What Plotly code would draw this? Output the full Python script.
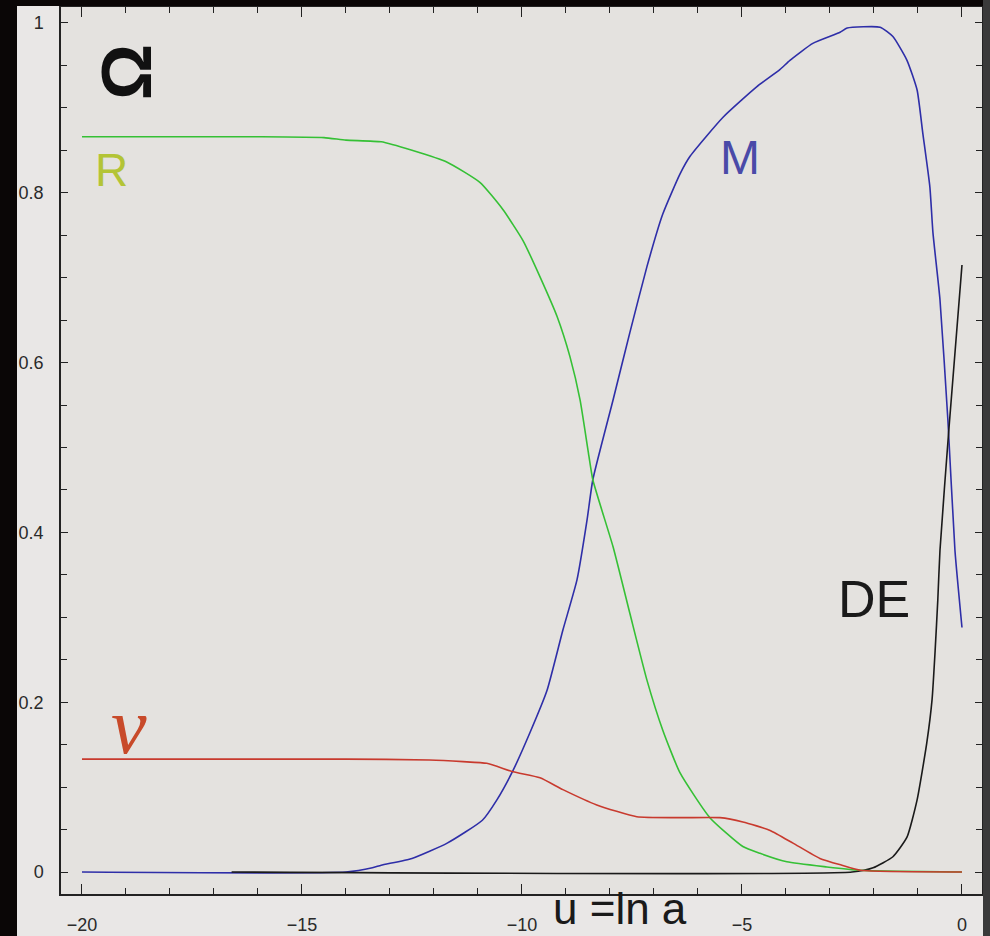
import plotly.graph_objects as go

# Density fractions versus u = ln a
u_R = [-20, -16, -14.5, -14, -13.2, -12.5, -11.7, -10.95, -10.43, -9.98, -9.59, -9.2,
       -8.91, -8.68, -8.5, -8.39, -7.93, -7.55, -7.16, -6.8, -6.41, -5.73, -4.98, -4.59,
       -3.98, -3.07, -2.32, 0]
omega_R = [0.866, 0.866, 0.865, 0.862, 0.860, 0.850, 0.836, 0.812, 0.780, 0.744, 0.701, 0.654,
           0.607, 0.556, 0.497, 0.462, 0.383, 0.305, 0.226, 0.167, 0.117, 0.064, 0.030, 0.022,
           0.012, 0.006, 0.002, 0.0]

u_nu = [-20, -14, -12.1, -11.34, -10.8, -10.2, -9.59, -9.07, -8.3, -7.39, -6.41, -5.5,
        -4.98, -4.36, -3.84, -3.23, -2.73, -2.3, 0]
omega_nu = [0.133, 0.133, 0.132, 0.130, 0.128, 0.118, 0.111, 0.097, 0.079, 0.065, 0.064, 0.064,
            0.059, 0.049, 0.034, 0.016, 0.008, 0.002, 0.0]

u_M = [-20, -14, -13.4, -13.2, -12.5, -11.7, -10.9, -10.57, -10.2, -9.82, -9.43, -9.07,
       -8.75, -8.52, -8.39, -7.93, -7.55, -7.16, -6.8, -6.41, -6.18, -5.43, -4.66, -4.14,
       -3.91, -3.39, -2.77, -2.61, -1.86, -1.57, -1.25, -1.02, -0.89, -0.73, -0.66, -0.5,
       -0.32, -0.16, 0]
omega_M = [0.0, 0.0, 0.005, 0.008, 0.016, 0.034, 0.061, 0.085, 0.120, 0.164, 0.214, 0.285,
           0.344, 0.415, 0.462, 0.556, 0.635, 0.713, 0.775, 0.822, 0.843, 0.889, 0.925, 0.945,
           0.956, 0.976, 0.989, 0.994, 0.995, 0.984, 0.956, 0.921, 0.870, 0.807, 0.753, 0.674,
           0.532, 0.379, 0.288]

u_DE = [-16.6, -2.5, -2.02, -1.57, -1.25, -1.02, -0.8, -0.68, -0.61, -0.55, -0.5, -0.3, 0]
omega_DE = [0.0, 0.0, 0.005, 0.018, 0.041, 0.085, 0.152, 0.203, 0.261, 0.32, 0.379, 0.52, 0.715]

x_ticks = [-20, -15, -10, -5, 0]
x_tick_text = ["\u221220", "\u221215", "\u221210", "\u22125", "0"]
y_ticks = [0, 0.2, 0.4, 0.6, 0.8, 1]
y_tick_text = ["0", "0.2", "0.4", "0.6", "0.8", "1"]


def curve(x, y, color):
    return go.Scatter(x=x, y=y, mode="lines",
                      line=dict(color=color, width=1.6, shape="spline", smoothing=0.5))


fig = go.Figure()
fig.add_trace(curve(u_M, omega_M, "#2e2ea8"))
fig.add_trace(curve(u_DE, omega_DE, "#1a1a1a"))
fig.add_trace(curve(u_R, omega_R, "#35c035"))
fig.add_trace(curve(u_nu, omega_nu, "#c83a2e"))

L, R, T, B = 61, 8, 7, 42
W, H = 990, 936
pw, ph = W - L - R, H - T - B


def px(xp):
    return (xp - L) / pw


def py(yp):
    return (H - B - yp) / ph


label_font = "Liberation Sans, Arial, sans-serif"
annotations = [
    dict(x=-19.32, y=0.827, text="R", font=dict(size=46, color="#b3c436", family=label_font)),
    dict(x=-5.05, y=0.842, text="M", font=dict(size=48, color="#4a4aa8", family=label_font)),
    dict(x=-2.0, y=0.322, text="DE", font=dict(size=52, color="#1a1a1a", family=label_font)),
    dict(x=-18.93, y=0.172, text="<i>\u03bd</i>",
         font=dict(size=80, color="#c84a2a", family="Liberation Serif, Times New Roman, serif")),
    dict(x=-18.98, y=0.942, text="<b>\u03a9</b>", textangle=-90,
         font=dict(size=70, color="#111111", family=label_font)),
    dict(xref="paper", yref="paper", x=px(620), y=py(935), yanchor="bottom",
         text="u =ln a", font=dict(size=44, color="#1a1a1a", family=label_font)),
]
for a in annotations:
    a.setdefault("xref", "x")
    a.setdefault("yref", "y")
    a["showarrow"] = False

shapes = [
    # dark borders around the captured frame
    dict(type="rect", xref="paper", yref="paper", x0=px(0), x1=px(17), y0=py(H), y1=py(0),
         fillcolor="#0a0606", line=dict(width=0), layer="above"),
    dict(type="rect", xref="paper", yref="paper", x0=px(0), x1=px(W), y0=py(6), y1=py(0),
         fillcolor="#0a0606", line=dict(width=0), layer="above"),
    dict(type="rect", xref="paper", yref="paper", x0=px(983), x1=px(W), y0=py(H), y1=py(0),
         fillcolor="#3a3a3a", line=dict(width=0), layer="above"),
]

axis_common = dict(showgrid=False, zeroline=False, showline=True, linecolor="#222222",
                   linewidth=1.5, mirror="allticks", ticks="inside", tickcolor="#222222",
                   tickwidth=1.3, automargin=False,
                   tickfont=dict(size=18, color="#2a2a2a", family=label_font))

fig.update_layout(
    width=W, height=H,
    margin=dict(l=L, r=R, t=T, b=B, pad=0, autoexpand=False),
    paper_bgcolor="#e9e7e6",
    plot_bgcolor="#e4e2df",
    showlegend=False,
    annotations=annotations,
    shapes=shapes,
    xaxis=dict(range=[-20.477, 0.455], tickvals=x_ticks, ticktext=x_tick_text, ticklen=10,
               minor=dict(dtick=1, ticks="inside", ticklen=6, tickcolor="#222222"),
               ticklabelstandoff=14, **axis_common),
    yaxis=dict(range=[-0.0259, 1.0188], tickvals=y_ticks, ticktext=y_tick_text, ticklen=7,
               minor=dict(dtick=0.05, ticks="inside", ticklen=6, tickcolor="#222222"),
               ticklabelstandoff=12, **axis_common),
)

fig.write_html("out.html")
